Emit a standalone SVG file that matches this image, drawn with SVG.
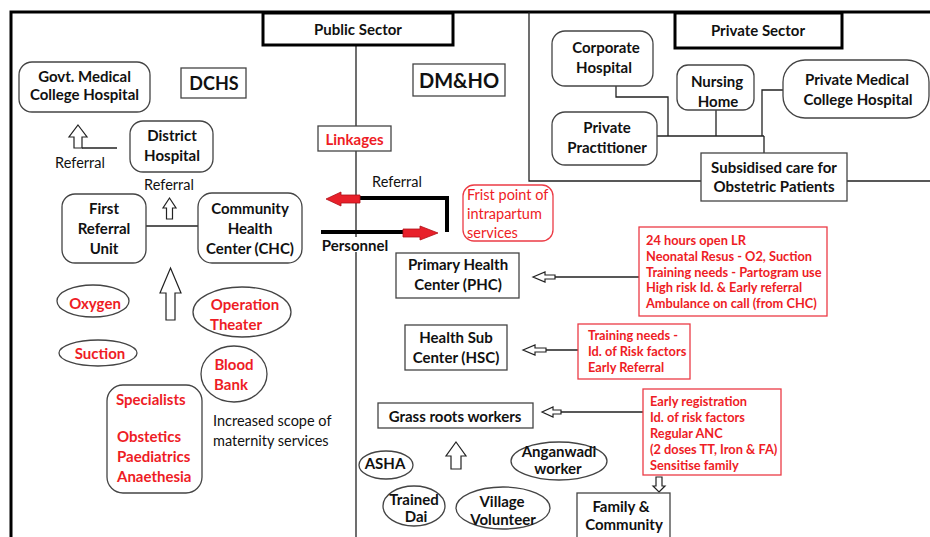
<svg xmlns="http://www.w3.org/2000/svg" width="930" height="537" viewBox="0 0 930 537">
<style>
text{font-family:Lato,"Liberation Sans",sans-serif;font-size:15px;font-weight:bold;fill:#111;text-anchor:middle;dominant-baseline:central}
.r{fill:#ee1c25}
.n{font-weight:normal;font-size:14.5px}
.l{text-anchor:start}
.s{font-size:12.8px}
.box{fill:#fff;stroke:#444;stroke-width:1.3}
.thick{fill:#fff;stroke:#000;stroke-width:3}
.rbox{fill:#fff;stroke:#ec3b45;stroke-width:1.3}
.ln{fill:none;stroke:#222;stroke-width:1.3}
.ha{fill:#fff;stroke:#222;stroke-width:1.2}
.ra{fill:#e8202a;stroke:#b01018;stroke-width:0.8}
</style>
<rect width="930" height="537" fill="#fff"/>
<g id="frame">
<path d="M11,537 V12 H930" fill="none" stroke="#000" stroke-width="3"/>
<path d="M529,12 V181 H930" class="ln"/>
</g>
<g id="connectors">
<path d="M356,45 V126 M356,151 V237 M356,252 V537" class="ln"/>
<path d="M146,226 H198" class="ln"/>
<path d="M82,148 H117" class="ln"/>
<path d="M616,86 V97 H668 V136 M657,136 H764 M716,110 V136 M762,136 V90 H783 M764,136 V153" class="ln"/>
<path d="M555,277 H639 M546,350 H578 M561,412 H643" class="ln"/>
<path d="M360,198 H447 V232 M321,232 H403" fill="none" stroke="#000" stroke-width="4"/>
<path class="ra" d="M326,199 L341,192 L341,195 L360,195 L360,203 L341,203 L341,206 Z"/>
<path class="ra" d="M438,233 L420,226 L420,229 L403,229 L403,237 L420,237 L420,240 Z"/>
<path class="ha" d="M78,125 L87,137 L82,137 L82,148 L74,148 L74,137 L69,137 Z"/>
<path class="ha" d="M169.5,198 L176,208 L172.5,208 L172.5,219 L166.5,219 L166.5,208 L163,208 Z"/>
<path class="ha" d="M170.5,268 L181,293 L175,293 L175,320 L166,320 L166,293 L160,293 Z"/>
<path class="ha" d="M456,442 L466,456 L461,456 L461,469 L451,469 L451,456 L446,456 Z"/>
<path class="ha" d="M533,277 L545,272 L545,275 L555,275 L555,279 L545,279 L545,282 Z"/>
<path class="ha" d="M523,350 L535,345 L535,348 L546,348 L546,352 L535,352 L535,355 Z"/>
<path class="ha" d="M542,412 L553,407 L553,410 L561,410 L561,414 L553,414 L553,417 Z"/>
<path class="ha" d="M659,492 L665,486 L662,486 L662,477 L656,477 L656,486 L653,486 Z"/>
</g>
<g id="public-sector"><rect class="thick" x="263" y="13" width="190" height="32"/><text x="358" y="29">Public Sector</text></g>
<g id="private-sector"><rect class="thick" x="675" y="13" width="167" height="35"/><text x="758" y="30">Private Sector</text></g>
<g id="dchs"><rect class="box" x="181" y="68" width="65" height="30"/><text x="214" y="83" style="font-size:18px">DCHS</text></g>
<g id="dmho"><rect class="box" x="413" y="64" width="92" height="32"/><text x="459" y="80" style="font-size:20px">DM&amp;HO</text></g>
<g id="linkages"><rect class="box" x="318" y="126" width="73" height="25"/><text class="r" x="354.5" y="138.5">Linkages</text></g>
<g id="govt-mch"><rect class="box" x="19" y="62" width="131" height="50" rx="13"/><text x="84.5" y="76">Govt. Medical</text><text x="84.5" y="94">College Hospital</text></g>
<g id="district-hospital"><rect class="box" x="130" y="121" width="83" height="51" rx="13"/><text x="172" y="135">District</text><text x="172" y="155">Hospital</text></g>
<g id="labels-left">
<text class="n" x="80" y="162">Referral</text>
<text class="n" x="169" y="184">Referral</text>
<text class="n l" x="213" y="420">Increased scope of</text>
<text class="n l" x="213" y="440">maternity services</text>
<text class="n" x="397" y="181">Referral</text>
<text x="355" y="245">Personnel</text>
</g>
<g id="fru"><rect class="box" x="62" y="194" width="84" height="69" rx="13"/><text x="104" y="208">First</text><text x="104" y="228">Referral</text><text x="104" y="248">Unit</text></g>
<g id="chc"><rect class="box" x="198" y="193" width="104" height="70" rx="14"/><text x="250" y="208">Community</text><text x="250" y="228">Health</text><text x="250" y="248">Center (CHC)</text></g>
<g id="oxygen"><ellipse class="box" cx="93" cy="301" rx="36" ry="16"/><text class="r" x="95" y="303">Oxygen</text></g>
<g id="suction"><ellipse class="box" cx="98" cy="353" rx="39" ry="13"/><text class="r" x="100" y="353">Suction</text></g>
<g id="operation-theater"><ellipse class="box" cx="242" cy="312" rx="49" ry="25"/><text class="r" x="245" y="304">Operation</text><text class="r" x="236" y="324">Theater</text></g>
<g id="blood-bank"><ellipse class="box" cx="234" cy="374" rx="33" ry="28"/><text class="r" x="234" y="364">Blood</text><text class="r" x="231" y="384">Bank</text></g>
<g id="specialists"><rect class="box" x="107" y="385" width="95" height="108" rx="16"/><text class="r l" x="116" y="399">Specialists</text><text class="r l" x="117" y="436">Obstetics</text><text class="r l" x="117" y="456">Paediatrics</text><text class="r l" x="117" y="476">Anaethesia</text></g>
<g id="corporate-hospital"><rect class="box" x="552" y="31" width="101" height="55" rx="13"/><text x="606" y="47">Corporate</text><text x="604" y="67">Hospital</text></g>
<g id="nursing-home"><rect class="box" x="677" y="65" width="77" height="45" rx="11"/><text x="717" y="81">Nursing</text><text x="718" y="101">Home</text></g>
<g id="private-mch"><rect class="box" x="783" y="60" width="146" height="58" rx="22"/><text x="857" y="79">Private Medical</text><text x="858" y="99">College Hospital</text></g>
<g id="private-practitioner"><rect class="box" x="552" y="112" width="105" height="53" rx="13"/><text x="607" y="127">Private</text><text x="607" y="147">Practitioner</text></g>
<g id="subsidised"><rect class="box" x="701" y="153" width="146" height="48"/><text x="774" y="167">Subsidised care for</text><text x="774" y="186">Obstetric Patients</text></g>
<g id="first-point"><rect class="rbox" x="463" y="185" width="90" height="56" rx="11"/><text class="r n l" x="467" y="194">Frist point of</text><text class="r n l" x="467" y="213">intrapartum</text><text class="r n l" x="467" y="232">services</text></g>
<g id="phc"><rect class="box" x="396" y="253" width="123" height="45"/><text x="458" y="264">Primary Health</text><text x="458" y="284">Center (PHC)</text></g>
<g id="phc-needs"><rect class="rbox" x="639" y="227" width="188" height="89"/><text class="r s l" x="646" y="240">24 hours open LR</text><text class="r s l" x="646" y="256">Neonatal Resus - O2, Suction</text><text class="r s l" x="646" y="272">Training needs - Partogram use</text><text class="r s l" x="646" y="287">High risk Id. &amp; Early referral</text><text class="r s l" x="646" y="303">Ambulance on call (from CHC)</text></g>
<g id="hsc"><rect class="box" x="405" y="325" width="102" height="45"/><text x="456" y="337">Health Sub</text><text x="456" y="357">Center (HSC)</text></g>
<g id="hsc-needs"><rect class="rbox" x="578" y="324" width="112" height="55"/><text class="r s l" x="588" y="335">Training needs -</text><text class="r s l" x="588" y="351">Id. of Risk factors</text><text class="r s l" x="588" y="367">Early Referral</text></g>
<g id="grass-roots"><rect class="box" x="378" y="403" width="155" height="25"/><text x="455" y="416">Grass roots workers</text></g>
<g id="grass-needs"><rect class="rbox" x="643" y="389" width="138" height="86"/><text class="r s l" x="650" y="401">Early registration</text><text class="r s l" x="650" y="417">Id. of risk factors</text><text class="r s l" x="650" y="433">Regular ANC</text><text class="r s l" x="650" y="449">(2 doses TT, Iron &amp; FA)</text><text class="r s l" x="650" y="465">Sensitise family</text></g>
<g id="family"><rect class="box" x="577" y="493" width="93" height="46"/><text x="621" y="506">Family &amp;</text><text x="624" y="524">Community</text></g>
<g id="asha"><ellipse class="box" cx="386" cy="465" rx="27" ry="14"/><text x="385" y="463">ASHA</text></g>
<g id="anganwadi"><ellipse class="box" cx="559" cy="461" rx="48" ry="19"/><text x="559" y="451">Anganwadi</text><text x="558" y="468">worker</text></g>
<g id="trained-dai"><ellipse class="box" cx="414" cy="506" rx="31" ry="20"/><text x="414" y="499">Trained</text><text x="416" y="516">Dai</text></g>
<g id="village-volunteer"><ellipse class="box" cx="503" cy="508" rx="47" ry="21"/><text x="502" y="501">Village</text><text x="503" y="519">Volunteer</text></g>
</svg>
